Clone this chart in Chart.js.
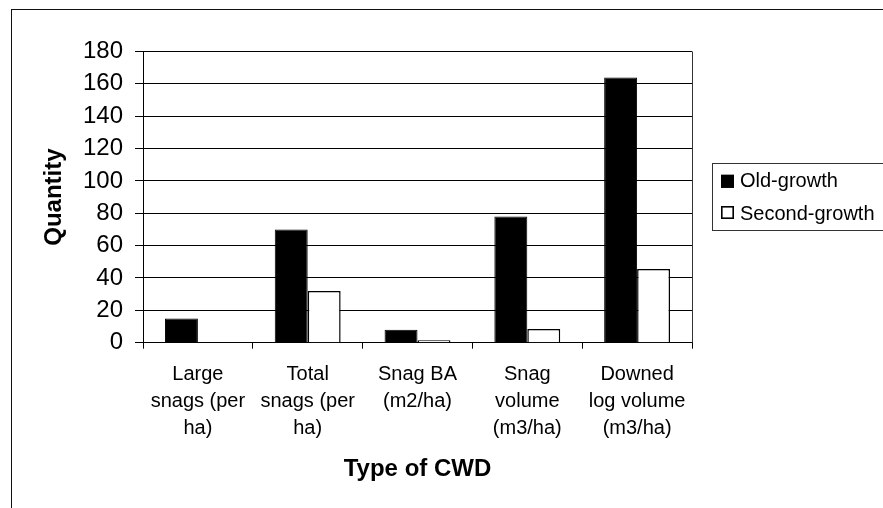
<!DOCTYPE html>
<html>
<head>
<meta charset="utf-8">
<script src="https://cdn.jsdelivr.net/npm/chart.js@4/dist/chart.umd.min.js"></script>
<style>
  html, body { margin: 0; padding: 0; background: #fff; }
  #wrap { width: 883px; height: 508px; position: relative; }
</style>
</head>
<body>
<div id="wrap"><canvas id="c" width="883" height="508"></canvas></div>
<script>
// Coarse woody debris by stand type
const categories = [
  ["Large", "snags (per", "ha)"],
  ["Total", "snags (per", "ha)"],
  ["Snag BA", "(m2/ha)"],
  ["Snag", "volume", "(m3/ha)"],
  ["Downed", "log volume", "(m3/ha)"]
];
const seriesNames = ["Old-growth", "Second-growth"];
const oldGrowth = [15, 70, 8, 78, 164];
const secondGrowth = [0, 32, 1.5, 8.5, 45.5];
const yTickValues = [0, 20, 40, 60, 80, 100, 120, 140, 160, 180];
const xTitle = "Type of CWD";
const yTitle = "Quantity";

const FONT = "'Liberation Sans', Arial, Helvetica, sans-serif";

// Outer chart frame and the right edge of the plot area
const framePlugin = {
  id: 'frame',
  afterDraw(chart) {
    const ctx = chart.ctx;
    const a = chart.chartArea;
    ctx.save();
    ctx.strokeStyle = '#111';
    ctx.lineWidth = 1;
    ctx.strokeRect(11.5, 9.5, 1000, 1000);
    ctx.strokeStyle = '#333';
    const rx = Math.round(a.right) + 0.5;
    ctx.beginPath();
    ctx.moveTo(rx, a.top);
    ctx.lineTo(rx, a.bottom);
    ctx.stroke();
    ctx.restore();
  }
};

// Boxed legend on the right, built from the datasets
const boxLegend = {
  id: 'boxLegend',
  afterDraw(chart) {
    const ctx = chart.ctx;
    ctx.save();
    ctx.strokeStyle = '#333';
    ctx.lineWidth = 1;
    ctx.strokeRect(712.5, 163.5, 200, 67);
    ctx.font = "20px " + FONT;
    ctx.textBaseline = 'alphabetic';
    ctx.textAlign = 'left';
    const swatchCenters = [181.3, 212.5];
    const baselines = [187, 220];
    chart.data.datasets.forEach((ds, i) => {
      const cy = swatchCenters[i];
      ctx.fillStyle = ds.backgroundColor;
      ctx.fillRect(721, cy - 6.5, 13, 13);
      ctx.strokeStyle = '#000';
      ctx.lineWidth = 1.6;
      ctx.strokeRect(721.8, cy - 5.7, 11.4, 11.4);
      ctx.fillStyle = '#000';
      ctx.fillText(ds.label, 740, baselines[i]);
    });
    ctx.restore();
  }
};

new Chart(document.getElementById('c'), {
  type: 'bar',
  data: {
    labels: categories,
    datasets: [
      {
        label: seriesNames[0],
        data: oldGrowth,
        backgroundColor: '#000000',
        borderColor: '#000000',
        borderWidth: 1
      },
      {
        label: seriesNames[1],
        data: secondGrowth,
        backgroundColor: '#ffffff',
        borderColor: '#000000',
        borderWidth: 1.5
      }
    ]
  },
  options: {
    responsive: false,
    animation: false,
    devicePixelRatio: 1,
    layout: { padding: { left: 0, top: 51.5, right: 191, bottom: 0 } },
    datasets: { bar: { categoryPercentage: 0.6, barPercentage: 1.0 } },
    plugins: {
      legend: { display: false },
      tooltip: { enabled: false }
    },
    scales: {
      x: {
        offset: true,
        grid: {
          offset: true,
          drawOnChartArea: false,
          drawTicks: true,
          tickLength: 6,
          color: '#000',
          tickColor: '#000',
          lineWidth: 1
        },
        border: { display: true, color: '#000', width: 1 },
        ticks: {
          color: '#000',
          font: { family: FONT, size: 20, lineHeight: 1.35 },
          padding: 12,
          maxRotation: 0,
          autoSkip: false
        },
        title: {
          display: true,
          text: xTitle,
          color: '#000',
          font: { family: FONT, size: 24, weight: 'bold', lineHeight: 1.2 },
          padding: { top: 0, bottom: 24.5 }
        },
        afterFit(scale) { scale.height = 165.3; }
      },
      y: {
        min: 0,
        max: 180,
        afterBuildTicks(scale) {
          scale.ticks = yTickValues.map(v => ({ value: v }));
        },
        grid: {
          color: '#000',
          tickColor: '#000',
          tickLength: 8,
          lineWidth: 1
        },
        border: { display: true, color: '#000', width: 1 },
        ticks: {
          color: '#000',
          font: { family: FONT, size: 24 },
          padding: 12
        },
        title: {
          display: true,
          text: yTitle,
          color: '#000',
          font: { family: FONT, size: 24, weight: 'bold', lineHeight: 1.2 },
          padding: { top: 39.6, bottom: 0 }
        },
        afterFit(scale) { scale.width = 143; }
      }
    }
  },
  plugins: [framePlugin, boxLegend]
});
</script>
</body>
</html>
